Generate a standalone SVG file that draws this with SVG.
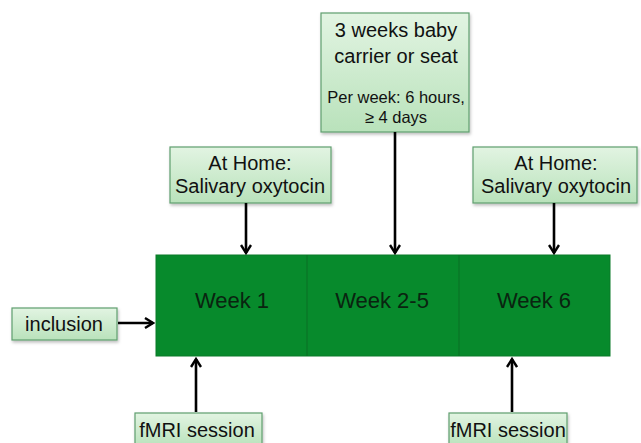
<svg xmlns="http://www.w3.org/2000/svg" width="641" height="443" viewBox="0 0 641 443">
<defs>
<linearGradient id="g" x1="0" y1="0" x2="0" y2="1">
<stop offset="0" stop-color="#e2f4e2"/>
<stop offset="1" stop-color="#b9e2bb"/>
</linearGradient>
<filter id="sh" x="-10%" y="-10%" width="130%" height="140%">
<feDropShadow dx="1" dy="2" stdDeviation="1.5" flood-color="#000" flood-opacity="0.25"/>
</filter>
<marker id="ah" viewBox="0 0 12 12" refX="10" refY="6" markerWidth="12" markerHeight="12" markerUnits="userSpaceOnUse" orient="auto">
<path d="M2,1 L10,6 L2,11" fill="none" stroke="#000" stroke-width="2.4"/>
</marker>
</defs>
<style>
.box{fill:url(#g);stroke:#5f9e6e;stroke-width:1.2;filter:url(#sh)}
.t{font-family:"Liberation Sans",Arial,sans-serif;font-size:20px;fill:#111;text-anchor:middle}
.s{font-size:16.5px}
.w{font-family:"Liberation Sans",Arial,sans-serif;font-size:22px;fill:#0a2410;text-anchor:middle}
.c{stroke:#000;stroke-width:2.6;fill:none;marker-end:url(#ah)}
</style>
<rect width="641" height="443" fill="#fff"/>
<g id="weeks">
<rect x="156" y="255" width="454" height="101" fill="#078a2c" stroke="#0b7a28" stroke-width="1"/>
<line x1="307" y1="255" x2="307" y2="356" stroke="#0a6e25" stroke-width="1"/>
<line x1="459" y1="255" x2="459" y2="356" stroke="#0a6e25" stroke-width="1"/>
<text class="w" x="232" y="308">Week 1</text>
<text class="w" x="382" y="308">Week 2-5</text>
<text class="w" x="534" y="308">Week 6</text>
</g>
<g id="carrier">
<rect class="box" x="321" y="13" width="148" height="119"/>
<text class="t" x="396" y="37">3 weeks baby</text>
<text class="t" x="396" y="63">carrier or seat</text>
<text class="t s" x="396" y="103">Per week: 6 hours,</text>
<text class="t s" x="396" y="123">≥ 4 days</text>
</g>
<g id="home1">
<rect class="box" x="170" y="147" width="161" height="56"/>
<text class="t" x="250" y="170">At Home:</text>
<text class="t" x="250" y="193">Salivary oxytocin</text>
</g>
<g id="home2">
<rect class="box" x="473" y="147" width="164" height="56"/>
<text class="t" x="556" y="170">At Home:</text>
<text class="t" x="556" y="193">Salivary oxytocin</text>
</g>
<g id="inclusion">
<rect class="box" x="12" y="308" width="105" height="32"/>
<text class="t" x="64" y="331">inclusion</text>
</g>
<g id="fmri1">
<rect class="box" x="135" y="413" width="127" height="34"/>
<text class="t" x="197" y="437">fMRI session</text>
</g>
<g id="fmri2">
<rect class="box" x="449" y="413" width="118" height="34"/>
<text class="t" x="508" y="437">fMRI session</text>
</g>
<g id="connectors">
<line class="c" x1="395" y1="132" x2="395" y2="253"/>
<line class="c" x1="246" y1="203" x2="246" y2="253"/>
<line class="c" x1="554" y1="203" x2="554" y2="253"/>
<line class="c" x1="118" y1="323" x2="153" y2="323"/>
<line class="c" x1="196" y1="412" x2="196" y2="359"/>
<line class="c" x1="512" y1="412" x2="512" y2="359"/>
</g>
</svg>
